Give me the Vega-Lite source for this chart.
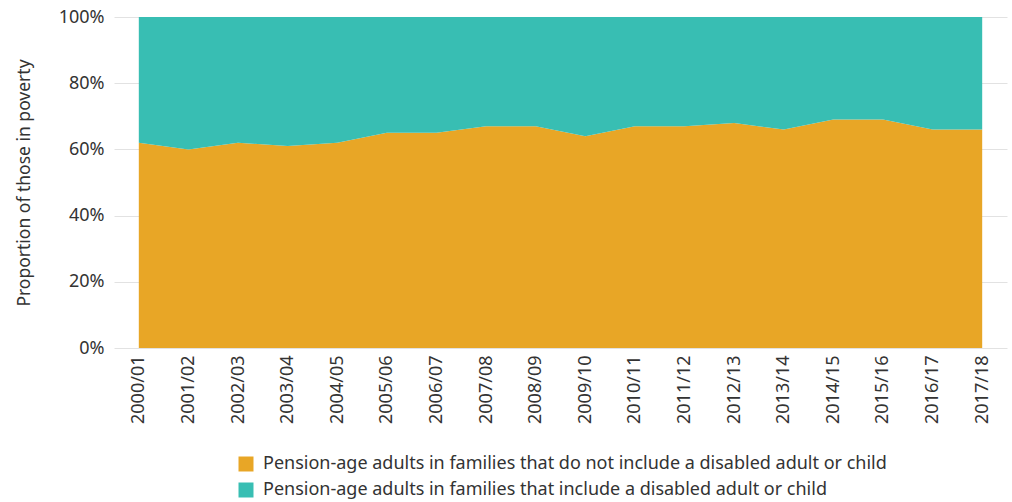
{
  "$schema": "https://vega.github.io/schema/vega-lite/v6.json",
  "width": 893,
  "height": 331,
  "autosize": {"type": "none"},
  "padding": {"left": 114, "top": 17, "right": 5, "bottom": 154},
  "config": {
    "font": "Noto Sans",
    "view": {"stroke": null},
    "background": "white"
  },
  "data": {
    "values": [
      {"year": "2000/01", "series": "Pension-age adults in families that do not include a disabled adult or child", "value": 62},
      {"year": "2001/02", "series": "Pension-age adults in families that do not include a disabled adult or child", "value": 60},
      {"year": "2002/03", "series": "Pension-age adults in families that do not include a disabled adult or child", "value": 62},
      {"year": "2003/04", "series": "Pension-age adults in families that do not include a disabled adult or child", "value": 61},
      {"year": "2004/05", "series": "Pension-age adults in families that do not include a disabled adult or child", "value": 62},
      {"year": "2005/06", "series": "Pension-age adults in families that do not include a disabled adult or child", "value": 65},
      {"year": "2006/07", "series": "Pension-age adults in families that do not include a disabled adult or child", "value": 65},
      {"year": "2007/08", "series": "Pension-age adults in families that do not include a disabled adult or child", "value": 67},
      {"year": "2008/09", "series": "Pension-age adults in families that do not include a disabled adult or child", "value": 67},
      {"year": "2009/10", "series": "Pension-age adults in families that do not include a disabled adult or child", "value": 64},
      {"year": "2010/11", "series": "Pension-age adults in families that do not include a disabled adult or child", "value": 67},
      {"year": "2011/12", "series": "Pension-age adults in families that do not include a disabled adult or child", "value": 67},
      {"year": "2012/13", "series": "Pension-age adults in families that do not include a disabled adult or child", "value": 68},
      {"year": "2013/14", "series": "Pension-age adults in families that do not include a disabled adult or child", "value": 66},
      {"year": "2014/15", "series": "Pension-age adults in families that do not include a disabled adult or child", "value": 69},
      {"year": "2015/16", "series": "Pension-age adults in families that do not include a disabled adult or child", "value": 69},
      {"year": "2016/17", "series": "Pension-age adults in families that do not include a disabled adult or child", "value": 66},
      {"year": "2017/18", "series": "Pension-age adults in families that do not include a disabled adult or child", "value": 66},
      {"year": "2000/01", "series": "Pension-age adults in families that include a disabled adult or child", "value": 38},
      {"year": "2001/02", "series": "Pension-age adults in families that include a disabled adult or child", "value": 40},
      {"year": "2002/03", "series": "Pension-age adults in families that include a disabled adult or child", "value": 38},
      {"year": "2003/04", "series": "Pension-age adults in families that include a disabled adult or child", "value": 39},
      {"year": "2004/05", "series": "Pension-age adults in families that include a disabled adult or child", "value": 38},
      {"year": "2005/06", "series": "Pension-age adults in families that include a disabled adult or child", "value": 35},
      {"year": "2006/07", "series": "Pension-age adults in families that include a disabled adult or child", "value": 35},
      {"year": "2007/08", "series": "Pension-age adults in families that include a disabled adult or child", "value": 33},
      {"year": "2008/09", "series": "Pension-age adults in families that include a disabled adult or child", "value": 33},
      {"year": "2009/10", "series": "Pension-age adults in families that include a disabled adult or child", "value": 36},
      {"year": "2010/11", "series": "Pension-age adults in families that include a disabled adult or child", "value": 33},
      {"year": "2011/12", "series": "Pension-age adults in families that include a disabled adult or child", "value": 33},
      {"year": "2012/13", "series": "Pension-age adults in families that include a disabled adult or child", "value": 32},
      {"year": "2013/14", "series": "Pension-age adults in families that include a disabled adult or child", "value": 34},
      {"year": "2014/15", "series": "Pension-age adults in families that include a disabled adult or child", "value": 31},
      {"year": "2015/16", "series": "Pension-age adults in families that include a disabled adult or child", "value": 31},
      {"year": "2016/17", "series": "Pension-age adults in families that include a disabled adult or child", "value": 34},
      {"year": "2017/18", "series": "Pension-age adults in families that include a disabled adult or child", "value": 34}
    ]
  },
  "mark": {"type": "area", "opacity": 1},
  "encoding": {
    "x": {
      "field": "year",
      "type": "ordinal",
      "scale": {"type": "point", "padding": 0.5},
      "axis": {
        "title": null,
        "labelAngle": -90,
        "labelFontSize": 18,
        "labelColor": "#333333",
        "labelPadding": 7,
        "ticks": false,
        "domain": false,
        "grid": false
      }
    },
    "y": {
      "field": "value",
      "type": "quantitative",
      "stack": "zero",
      "scale": {"domain": [0, 100], "nice": false},
      "axis": {
        "title": "Proportion of those in poverty",
        "titleFontSize": 17.5,
        "titleFontWeight": "normal",
        "titleColor": "#333333",
        "titlePadding": 25,
        "values": [0, 20, 40, 60, 80, 100],
        "labelExpr": "datum.value + '%'",
        "labelFontSize": 18,
        "labelColor": "#333333",
        "labelPadding": 10,
        "ticks": false,
        "domain": false,
        "grid": true,
        "gridColor": "#e2e2e2",
        "gridWidth": 1
      }
    },
    "order": {"field": "series", "sort": "ascending"},
    "color": {
      "field": "series",
      "type": "nominal",
      "scale": {
        "domain": [
          "Pension-age adults in families that do not include a disabled adult or child",
          "Pension-age adults in families that include a disabled adult or child"
        ],
        "range": ["#E8A626", "#38BEB3"]
      },
      "legend": {
        "title": null,
        "orient": "none",
        "legendX": 123,
        "legendY": 438,
        "direction": "vertical",
        "symbolType": "square",
        "symbolSize": 225,
        "symbolStrokeWidth": 0,
        "labelFontSize": 18,
        "labelColor": "#333333",
        "labelLimit": 800,
        "labelOffset": 8,
        "rowPadding": 8
      }
    }
  }
}
